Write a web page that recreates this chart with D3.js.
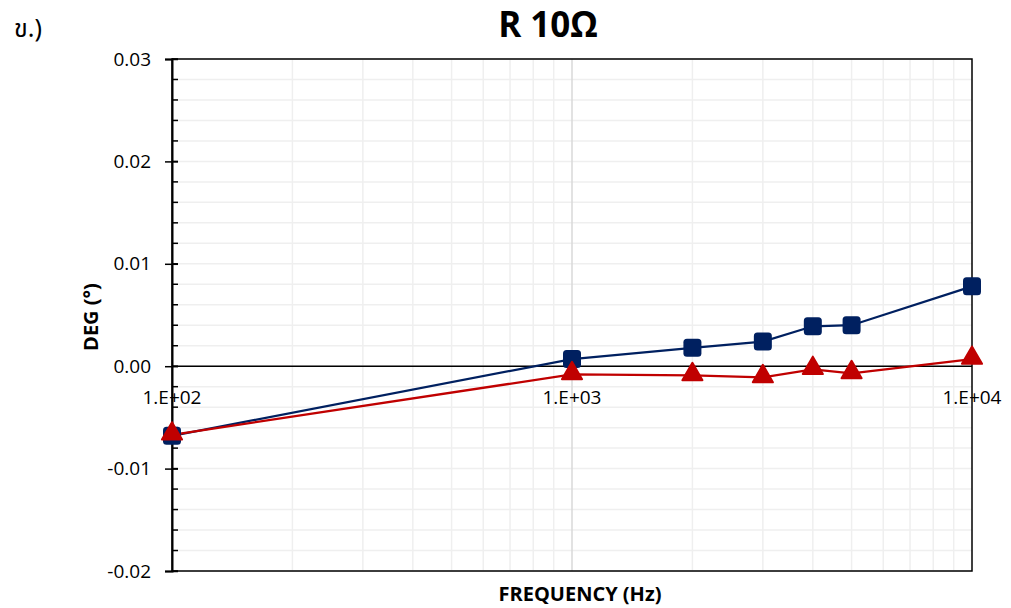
<!DOCTYPE html>
<html><head><meta charset="utf-8">
<script src="https://cdnjs.cloudflare.com/ajax/libs/d3/7.8.5/d3.min.js"></script>
<style>body{margin:0;background:#fff}svg{font-family:"Open Sans","Noto Sans",sans-serif}</style>
</head><body><svg id="c" width="1011" height="608"></svg>
<script>
const freqs = [100, 1000, 2000, 3000, 4000, 5000, 10000];
const seriesBlue = [-0.0068, 0.0007, 0.0018, 0.0024, 0.0039, 0.0040, 0.0078];
const seriesRed = [-0.0067, -0.0008, -0.0009, -0.0011, -0.0003, -0.0007, 0.0007];
const yTicks = [-0.02, -0.01, 0.00, 0.01, 0.02, 0.03];
const xTicks = [100, 1000, 10000];
const xTickLabels = ["1.E+02", "1.E+03", "1.E+04"];
const title = "R 10Ω";
const corner = "ข.)";

const svg = d3.select("#c");
const L = 172, R = 972, T = 59, B = 571;
const x = d3.scaleLog().domain([100, 10000]).range([L, R]);
const y = d3.scaleLinear().domain([-0.02, 0.03]).range([B, T]);

// minor grid
const minorX = [];
for (let d = 100; d < 10000; d *= 10) for (let k = 2; k <= 9; k++) minorX.push(d * k);
svg.append("g").selectAll("line").data(minorX).join("line")
  .attr("x1", d => x(d)).attr("x2", d => x(d)).attr("y1", T).attr("y2", B)
  .attr("stroke", "#efefef").attr("stroke-width", 1.5);
const minorY = d3.range(-0.02, 0.0301, 0.002);
svg.append("g").selectAll("line").data(minorY).join("line")
  .attr("x1", L).attr("x2", R).attr("y1", d => y(d)).attr("y2", d => y(d))
  .attr("stroke", "#efefef").attr("stroke-width", 1.5);
svg.append("line").attr("x1", x(1000)).attr("x2", x(1000)).attr("y1", T).attr("y2", B)
  .attr("stroke", "#d9d9d9").attr("stroke-width", 1.5);

// border
svg.append("rect").attr("x", L).attr("y", T).attr("width", R - L).attr("height", B - T)
  .attr("fill", "none").attr("stroke", "#000").attr("stroke-width", 1.5);

// y axis
const fmt = d => d3.format(".2f")(d).replace("−", "-");
const yAxis = d3.axisLeft(y).tickValues(yTicks).tickFormat(fmt).tickSize(7).tickPadding(14);
const gy = svg.append("g").attr("transform", `translate(${L},0)`).call(yAxis);
gy.select(".domain").attr("stroke-width", 2);
gy.selectAll(".tick line").attr("x2", 0).attr("x1", -7).attr("stroke-width", 1.5)
  .clone().attr("x1", 0).attr("x2", 6);
gy.selectAll(".tick text").attr("font-size", 19).attr("fill", "#000")
  .attr("font-family", "'Open Sans',sans-serif");
gy.append("g").selectAll("line").data(minorY).join("line")
  .attr("x1", 0).attr("x2", 6).attr("y1", d => y(d)).attr("y2", d => y(d))
  .attr("stroke", "#000").attr("stroke-width", 1.5);

// x axis at y=0
svg.append("line").attr("x1", L).attr("x2", R).attr("y1", y(0)).attr("y2", y(0))
  .attr("stroke", "#000").attr("stroke-width", 1.5);
svg.append("g").selectAll("text").data(xTicks).join("text")
  .attr("x", d => x(d)).attr("y", y(0) + 38).attr("text-anchor", "middle")
  .attr("font-size", 19).text((d, i) => xTickLabels[i]);

// lines
const line = d3.line().x((d, i) => x(freqs[i])).y(d => y(d));
svg.append("path").datum(seriesBlue).attr("d", line).attr("fill", "none")
  .attr("stroke", "#002060").attr("stroke-width", 2.25);
svg.append("path").datum(seriesRed).attr("d", line).attr("fill", "none")
  .attr("stroke", "#C00000").attr("stroke-width", 2.25);
svg.append("g").selectAll("rect").data(seriesBlue).join("rect")
  .attr("x", (d, i) => x(freqs[i]) - 9).attr("y", d => y(d) - 9)
  .attr("width", 18).attr("height", 18).attr("rx", 3.5)
  .attr("fill", "#002060");
const tri = d3.symbol().type(d3.symbolTriangle).size(175);
svg.append("g").selectAll("path").data(seriesRed).join("path")
  .attr("d", tri).attr("transform", (d, i) => `translate(${x(freqs[i])},${y(d) - 1})`)
  .attr("fill", "#C00000").attr("stroke", "#C00000").attr("stroke-width", 2).attr("stroke-linejoin", "round");

// titles
svg.append("text").attr("x", 548).attr("y", 37).attr("text-anchor", "middle")
  .attr("font-size", 35).attr("font-weight", "bold").text(title);
svg.append("text").attr("x", 14).attr("y", 37).attr("font-size", 25)
  .attr("font-family", "'Noto Sans Thai','Noto Sans','DejaVu Sans',sans-serif").text(corner);
svg.append("text").attr("transform", `translate(98,${317}) rotate(-90)`).attr("text-anchor", "middle")
  .attr("font-size", 20).attr("font-weight", "bold").text("DEG (°)");
svg.append("text").attr("x", 580).attr("y", 601).attr("text-anchor", "middle")
  .attr("font-size", 20).attr("font-weight", "bold").text("FREQUENCY (Hz)");
</script></body></html>
